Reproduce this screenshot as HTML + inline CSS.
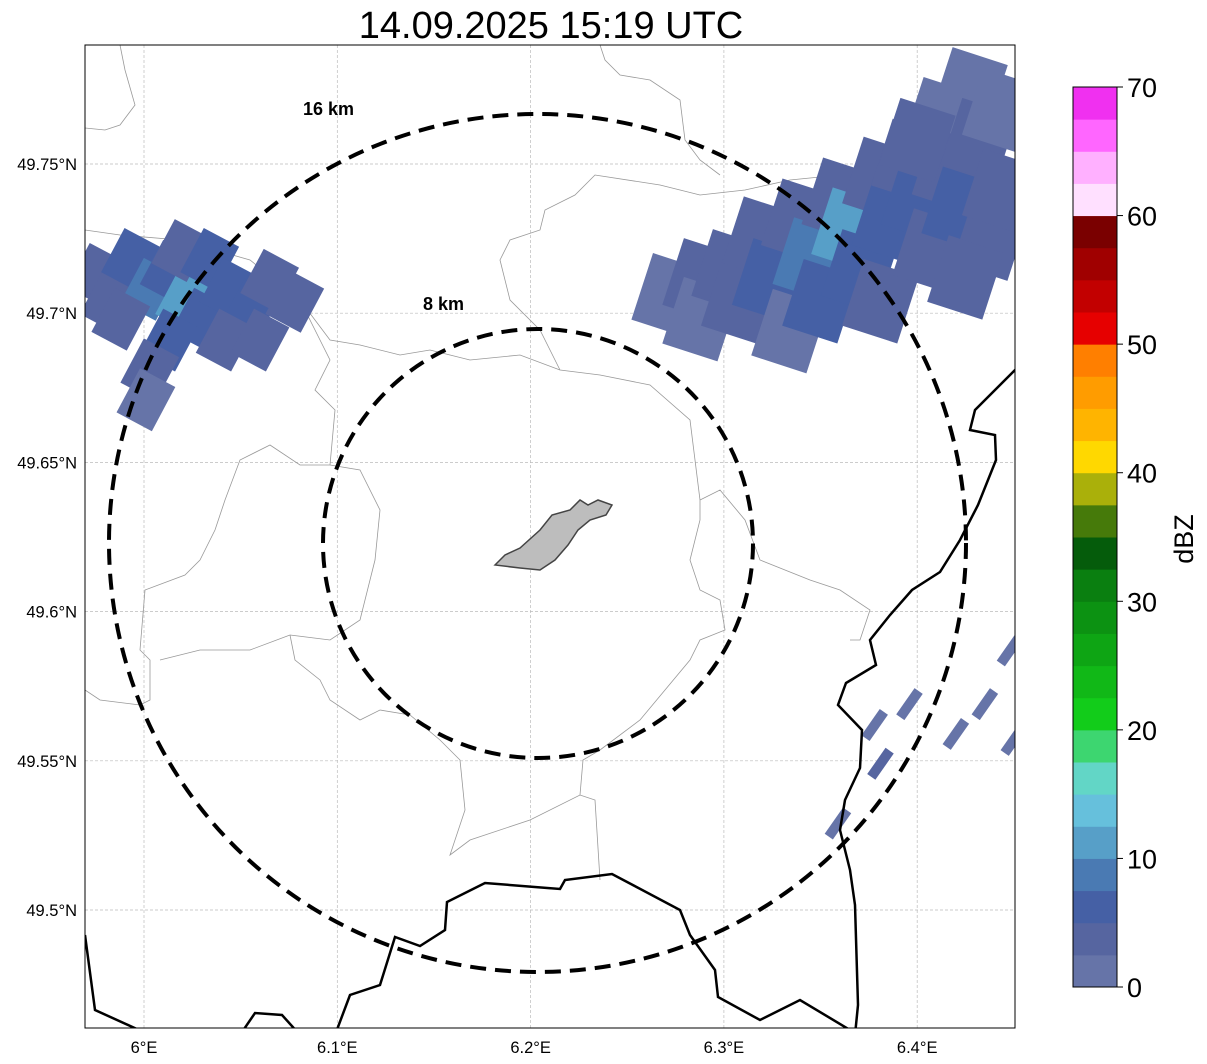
<!DOCTYPE html>
<html><head><meta charset="utf-8"><style>
body{margin:0;background:#fff;font-family:"Liberation Sans",sans-serif;}
svg{display:block}
</style></head><body>
<svg id="chart" width="1207" height="1064" viewBox="0 0 1207 1064">
<text x="551" y="38" font-size="38" text-anchor="middle" fill="#000">14.09.2025 15:19 UTC</text>
<defs><clipPath id="mapclip"><rect x="85" y="45" width="930" height="983"/></clipPath></defs>
<g id="map" clip-path="url(#mapclip)">
<g id="grid"></g>
<g id="borders" fill="none" stroke="#999" stroke-width="0.8">
<path d="M120,45 L125,70 L135,105 L120,125 L105,130 L85,128"/>
<path d="M85,230 L120,235 L180,240 L250,260 L300,300 L330,340 L360,345 L400,355 L430,350 L470,360 L520,355 L560,370 L600,375 L650,385 L690,420 L695,460 L700,500"/>
<path d="M300,300 L330,360 L315,390 L335,410 L330,465 L300,465 L270,445 L240,460 L225,500 L215,530 L200,560 L185,575 L145,590 L140,650 L150,660 L150,700 L140,705 L100,700 L85,690"/>
<path d="M330,465 L360,470 L380,510 L375,560 L360,620 L330,640 L290,635 L250,650 L200,650 L160,660"/>
<path d="M290,635 L295,660 L320,680 L330,700 L360,720 L380,710 L410,715 L440,740 L460,760 L465,810 L450,855 L470,840 L530,820 L580,795 L595,800 L600,880"/>
<path d="M580,795 L583,760 L600,750 L640,720 L665,690 L690,660 L700,640 L725,630 L720,600 L700,590 L690,560 L700,520 L700,500 L720,490 L745,520 L760,560 L810,580 L840,590 L870,610 L860,640 L850,640"/>
<path d="M560,370 L540,330 L510,300 L500,260 L510,240 L540,230 L545,210 L575,195 L595,175 L660,185 L700,195 L745,190 L790,180 L840,175 L880,165 L925,170 L965,200 L1015,210"/>
<path d="M600,45 L605,60 L620,75 L650,80 L680,100 L685,140 L700,160 L720,175"/>
</g>
<g id="echoes"></g>
<g id="country" fill="none" stroke="#000" stroke-width="2.5">
<path d="M85,935 L95,1010 L150,1035"/>
<path d="M240,1035 L255,1013 L282,1015 L300,1035"/>
<path d="M335,1035 L350,995 L380,985 L395,937 L420,946 L445,930 L447,902 L485,883 L560,889 L565,880 L612,874 L680,910 L690,935 L715,970 L718,997 L760,1020 L800,1000 L850,1030"/>
<path d="M1020,365 L1000,385 L975,410 L970,430 L995,435 L996,460 L978,505 L960,540 L940,572 L912,590 L890,615 L870,640 L876,665 L846,683 L838,705 L862,730 L860,768 L845,800 L840,830 L850,870 L855,905 L858,1005 L855,1035"/>
</g>
<path d="M495,565 L505,555 L520,548 L540,530 L552,515 L570,510 L580,500 L588,505 L598,500 L612,505 L606,515 L590,520 L578,530 L568,545 L555,560 L540,570 L520,568 Z" fill="#bdbdbd" stroke="#444" stroke-width="1.5"/>
<ellipse cx="537.5" cy="543" rx="428.5" ry="429" fill="none" stroke="#000" stroke-width="4" stroke-dasharray="16,9"/>
<ellipse cx="538" cy="543.5" rx="215" ry="214.5" fill="none" stroke="#000" stroke-width="4" stroke-dasharray="16,9"/>
<text x="303" y="115" font-size="18" font-weight="bold">16 km</text>
<text x="423" y="310" font-size="18" font-weight="bold">8 km</text>
</g>
<rect x="85" y="45" width="930" height="983" fill="none" stroke="#000" stroke-width="1"/>
<g id="axes" font-size="16.5" fill="#000"></g>
<g id="cbar"></g>
<text transform="translate(1193,539) rotate(-90)" font-size="27" text-anchor="middle">dBZ</text>
</svg>
<script>
const NS='http://www.w3.org/2000/svg';
const lonTicks=[6.0,6.1,6.2,6.3,6.4];
const lonLabels=['6°E','6.1°E','6.2°E','6.3°E','6.4°E'];
const latTicks=[49.75,49.7,49.65,49.6,49.55,49.5];
const latLabels=['49.75°N','49.7°N','49.65°N','49.6°N','49.55°N','49.5°N'];
const cbarTicks=[0,10,20,30,40,50,60,70];
const cbarColors=['#6674a8','#5665a0','#4560a5','#4a7ab3','#579fc8','#66c0dc','#62d6c6','#3dd670','#12cc1a','#11b817','#0ea514','#0c9212','#0a7f10','#055c0b','#467a0a','#aab00a','#ffd800','#ffb400','#ff9c00','#ff7f00','#e60000','#c20000','#a00000','#7a0000','#ffe0ff','#ffb0ff','#ff66ff','#f030f0'];
// echo cells: lon, lat, dBZ
const neLon=[6.272,6.288,6.288,6.303,6.308,6.319,6.324,6.334,6.339,6.345,6.350,6.360,6.365,6.370,6.381,6.381,6.386,6.396,6.401,6.407,6.412,6.417,6.422,6.427,6.432,6.438,6.443,6.443,6.400,6.425];
const neLat=[49.706,49.711,49.698,49.714,49.704,49.725,49.711,49.694,49.731,49.718,49.704,49.738,49.728,49.714,49.745,49.704,49.731,49.751,49.738,49.721,49.765,49.748,49.735,49.775,49.758,49.725,49.768,49.741,49.758,49.712];
const neVal=[2,3,2,4,3,3,6,2,3,8,5,4,12,6,3,4,5,3,6,4,2,4,5,2,3,3,2,4,3,3];
const nwLon=[5.975,5.982,5.993,6.003,6.013,6.021,6.029,6.019,6.034,6.044,6.055,6.065,6.078,6.042,6.013,6.003,6.001,6.060,5.988];
const nwLat=[49.713,49.704,49.718,49.708,49.714,49.704,49.698,49.721,49.718,49.708,49.701,49.711,49.704,49.691,49.691,49.681,49.671,49.691,49.698];
const nwVal=[4,3,5,8,7,12,6,4,5,7,5,3,3,4,5,3,2,4,3];
const seLon=[6.448,6.435,6.420,6.396,6.378,6.381,6.359,6.450];
const seLat=[49.587,49.569,49.559,49.569,49.562,49.549,49.529,49.557];
const seVal=[2,2,2,2,2,3,2,2];
const X=lon=>144+(lon-6)*1933, Y=lat=>164+(49.75-lat)*2984;
const cbY=v=>987-v*(900/70);
function mk(tag,attrs,parent){const e=document.createElementNS(NS,tag);for(const k in attrs)e.setAttribute(k,attrs[k]);parent.appendChild(e);return e;}
const grid=document.getElementById('grid'),axes=document.getElementById('axes');
lonTicks.forEach((t,i)=>{
 const l=mk('line',{x1:X(t),x2:X(t),y1:45,y2:1028,stroke:'#bbb','stroke-width':0.7,'stroke-dasharray':'3,2'},grid);
 
 const tx=mk('text',{x:X(t),y:1053,'text-anchor':'middle'},axes);tx.textContent=lonLabels[i];
 
});
latTicks.forEach((t,i)=>{
 const l=mk('line',{x1:85,x2:1015,y1:Y(t),y2:Y(t),stroke:'#bbb','stroke-width':0.7,'stroke-dasharray':'3,2'},grid);
 
 const tx=mk('text',{x:77,y:Y(t)+6,'text-anchor':'end'},axes);tx.textContent=latLabels[i];
 
});
const colorFor=v=>cbarColors[Math.min(cbarColors.length-1,Math.floor(v/2.5))];
const ech=document.getElementById('echoes');
function cells(lons,lats,vals,w,h,rot,name){
 lons.forEach((lo,i)=>{
  const cx=X(lo),cy=Y(lats[i]);
  const r=mk('rect',{x:cx-w/2,y:cy-h/2,width:w,height:h,fill:colorFor(vals[i]),transform:`rotate(${rot} ${cx} ${cy})`},ech);
  
 });
}
cells(neLon,neLat,neVal,58,70,18,'echo-cell-ne');
cells(nwLon,nwLat,nwVal,40,50,28,'echo-cell-nw');
cells(seLon,seLat,seVal,10,32,35,'echo-cell-se');
const cb=document.getElementById('cbar');
cbarColors.forEach((c,i)=>{
 const r=mk('rect',{x:1073,y:cbY((i+1)*2.5),width:44,height:900/28+0.5,fill:c},cb);
 
});
mk('rect',{x:1073,y:87,width:44,height:900,fill:'none',stroke:'#000','stroke-width':1},cb);
cbarTicks.forEach(t=>{
 mk('line',{x1:1117,x2:1123,y1:cbY(t),y2:cbY(t),stroke:'#000'},cb);
 const tx=mk('text',{x:1127,y:cbY(t)+10,'font-size':27},cb);tx.textContent=t;
 
});
</script>
</body></html>
